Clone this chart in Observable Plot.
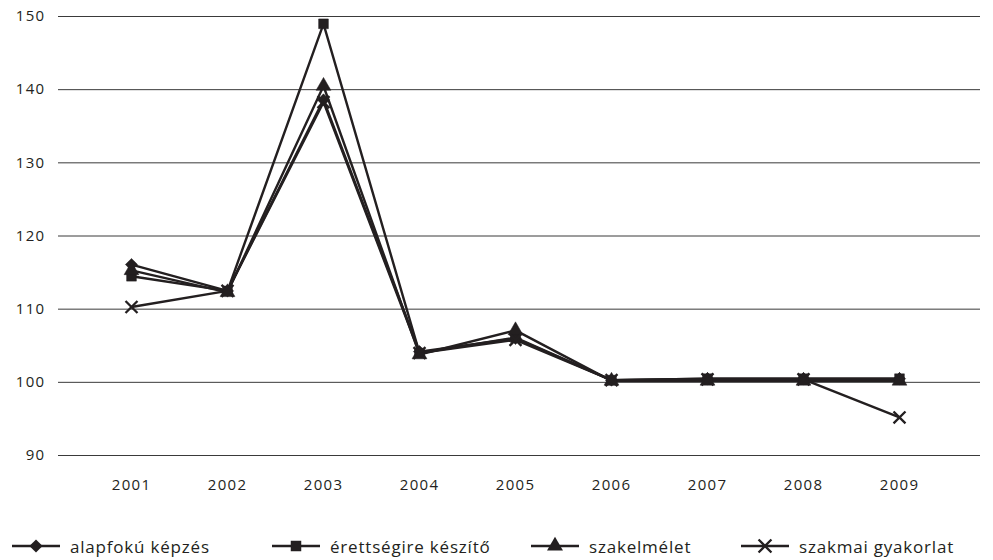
<!DOCTYPE html>
<html>
<head>
<meta charset="utf-8">
<script src="https://cdn.jsdelivr.net/npm/d3@7"></script>
<script src="https://cdn.jsdelivr.net/npm/@observablehq/plot@0.6"></script>
<style>
  body { margin: 0; background: #fff; font-family: "Open Sans", Lato, sans-serif; color: #231f20; }
  #legend { position: relative; width: 993px; height: 55px; }
  .item { position: absolute; top: 31px; height: 20px; display: flex; align-items: center; font-size: 17px; letter-spacing: 0.8px; white-space: nowrap; }
  .item svg { margin-right: 10px; }
</style>
</head>
<body>
<div id="chart"></div>
<div id="legend"></div>
<script>
const years = ["2001","2002","2003","2004","2005","2006","2007","2008","2009"];
const seriesNames = ["alapfokú képzés", "érettségire készítő", "szakelmélet", "szakmai gyakorlat"];
const alapfoku   = [116.1, 112.5, 138.6, 104.2, 106.0, 100.3, 100.5, 100.5, 100.5];
const erettsegi  = [114.5, 112.5, 149.0, 104.0, 106.1, 100.3, 100.5, 100.5, 100.5];
const szakelmelet= [115.3, 112.3, 140.5, 103.8, 107.1, 100.2, 100.2, 100.2, 100.2];
const szakmai    = [110.3, 112.5, 138.3, 104.0, 105.8, 100.3, 100.4, 100.4, 95.2];
const yTicks = [90, 100, 110, 120, 130, 140, 150];
const symbols = ["diamond2", "square", "triangle", "times"];

const seriesValues = [alapfoku, erettsegi, szakelmelet, szakmai];
const data = [];
seriesNames.forEach((s, i) => years.forEach((y, j) => data.push({series: s, year: y, value: seriesValues[i][j], sym: symbols[i]})));

const ink = "#231f20";
const filled = data.filter(d => d.sym !== "times");
const crosses = data.filter(d => d.sym === "times");

const chart = Plot.plot({
  width: 993,
  height: 505,
  marginLeft: 58,
  marginRight: 13,
  marginTop: 16,
  marginBottom: 50,
  style: { fontFamily: "'Open Sans', Lato, sans-serif", fontSize: "15px", letterSpacing: "1.3px", color: ink, background: "#fff" },
  x: { type: "point", domain: years, insetLeft: 72, insetRight: 80, padding: 0, label: null },
  y: { domain: [90, 150], label: null },
  symbol: { domain: symbols, range: symbols },
  marks: [
    Plot.ruleY(yTicks, { stroke: "#3a3a3a", strokeWidth: 1 }),
    Plot.axisY({ ticks: yTicks, tickSize: 0, tickPadding: 13, label: null, fill: ink }),
    Plot.axisX({ tickSize: 0, tickPadding: 24, label: null, fill: ink }),
    Plot.line(data, { x: "year", y: "value", z: "series", stroke: ink, strokeWidth: 2.4 }),
    Plot.dot(filled, { x: "year", y: "value", symbol: "sym", fill: ink, stroke: ink, strokeWidth: 0.5, r: 5.5 }),
    Plot.dot(crosses, { x: "year", y: "value", symbol: "sym", stroke: ink, strokeWidth: 2.3, r: 5.5 })
  ]
});
document.getElementById("chart").append(chart);

// legend
const legendLeft = [12, 272, 531, 741];
const legend = document.getElementById("legend");
const symTypes = {diamond2: d3.symbolDiamond2, square: d3.symbolSquare, triangle: d3.symbolTriangle, times: d3.symbolTimes};
seriesNames.forEach((name, i) => {
  const item = document.createElement("div");
  item.className = "item";
  item.style.left = legendLeft[i] + "px";
  const sym = d3.symbol().type(symTypes[symbols[i]]).size(110)();
  const isX = symbols[i] === "times";
  item.innerHTML = `<svg width="48" height="20"><line x1="0" x2="48" y1="10" y2="10" stroke="${ink}" stroke-width="2.4"/>` +
    `<path transform="translate(24,10)" d="${sym}" ${isX ? `fill="none" stroke="${ink}" stroke-width="2.3"` : `fill="${ink}"`}/></svg><span>${name}</span>`;
  legend.append(item);
});
</script>
</body>
</html>
